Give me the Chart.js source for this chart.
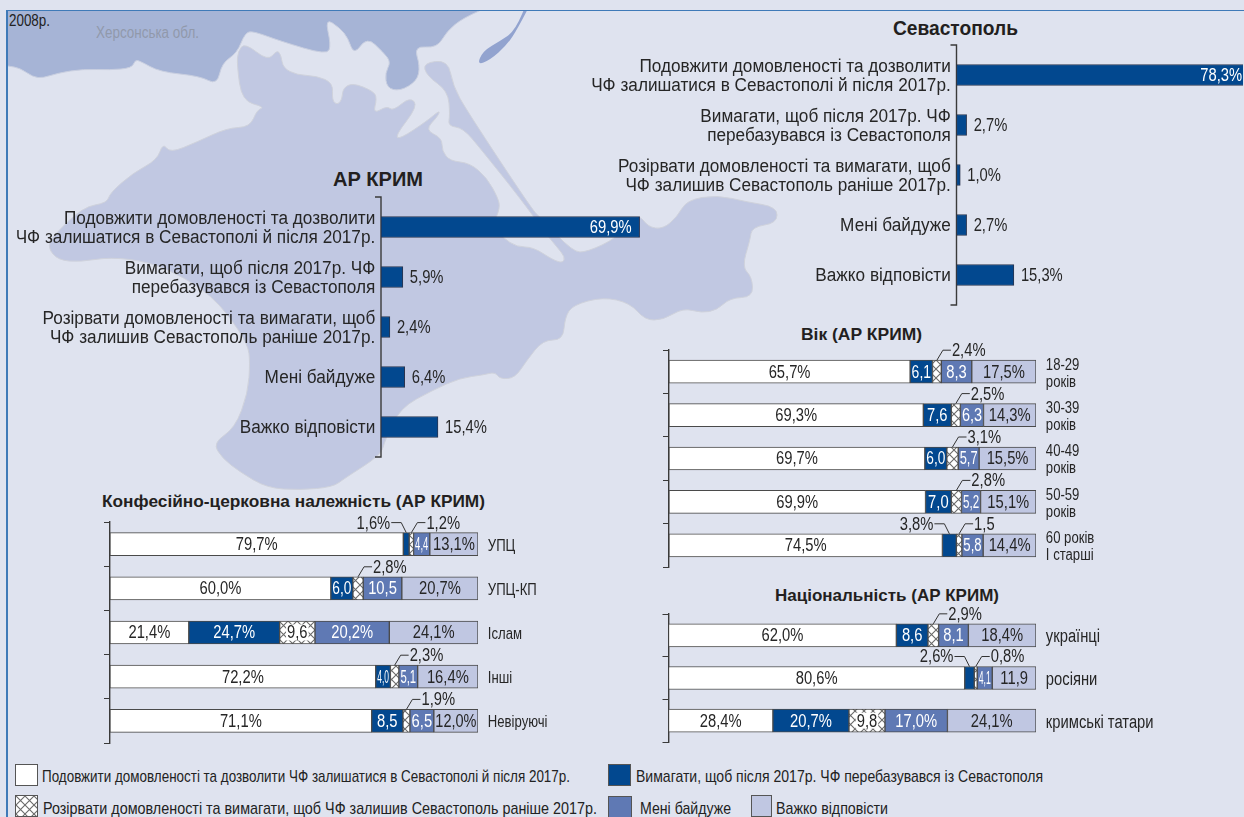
<!DOCTYPE html>
<html lang="uk"><head><meta charset="utf-8">
<title>ЧФ у Севастополі, 2008р.</title>
<script src="https://cdn.jsdelivr.net/npm/chart.js@4/dist/chart.umd.min.js"></script>
<style>
html,body{margin:0;padding:0;background:#dfe3ef;overflow:hidden}
#stage{position:relative;width:1244px;height:817px;overflow:hidden;background:#dfe3ef}
#frame{position:absolute;left:6px;top:10px;width:1300px;height:900px;border-left:2px solid #3f7ab8;border-top:1.5px solid #3f7ab8}
svg#map{position:absolute;left:0;top:0}
canvas.ch{position:absolute;left:0;top:0}
.t{position:absolute;white-space:nowrap;transform-origin:0 50%;font-family:"Liberation Sans",sans-serif;color:#222;line-height:1}
.b{font-weight:bold;color:#231f20}
.sw{position:absolute;box-sizing:border-box;border:1px solid #555}
</style></head>
<body><div id="stage">
<svg id="map" width="1244" height="817"></svg>
<div id="frame"></div>
</div>
<script>
// ---------- data ----------
const answers = ['Подовжити домовленості та дозволити ЧФ залишатися в Севастополі й після 2017р.','Вимагати, щоб після 2017р. ЧФ перебазувався із Севастополя','Розірвати домовленості та вимагати, щоб ЧФ залишив Севастополь раніше 2017р.','Мені байдуже','Важко відповісти'];
const shortCats = [['Подовжити домовленості та дозволити','ЧФ залишатися в Севастополі й після 2017р.'],['Вимагати, щоб після 2017р. ЧФ','перебазувався із Севастополя'],['Розірвати домовленості та вимагати, щоб','ЧФ залишив Севастополь раніше 2017р.'],'Мені байдуже','Важко відповісти'];
const crimeaValues = [69.9,5.9,2.4,6.4,15.4];
const sevastopolValues = [78.3,2.7,1.0,2.7,15.3];

const confCats = ['УПЦ','УПЦ-КП','Іслам','Інші','Невіруючі'];
const confContinue = [79.7,60.0,21.4,72.2,71.1];
const confRelocate = [1.6,6.0,24.7,4.0,8.5];
const confBreak = [1.2,2.8,9.6,2.3,1.9];
const confIndifferent = [4.4,10.5,20.2,5.1,6.5];
const confHard = [13.1,20.7,24.1,16.4,12.0];
const confText = [['79,7%','1,6%','1,2%','4,4','13,1%'],['60,0%','6,0','2,8%','10,5','20,7%'],['21,4%','24,7%','9,6','20,2%','24,1%'],['72,2%','4,0','2,3%','5,1','16,4%'],['71,1%','8,5','1,9%','6,5','12,0%']];

const ageCats = [['18-29','років'],['30-39','років'],['40-49','років'],['50-59','років'],['60 років','І старші']];
const ageContinue = [65.7,69.3,69.7,69.9,74.5];
const ageRelocate = [6.1,7.6,6.0,7.0,3.8];
const ageBreak = [2.4,2.5,3.1,2.8,1.5];
const ageIndifferent = [8.3,6.3,5.7,5.2,5.8];
const ageHard = [17.5,14.3,15.5,15.1,14.4];
const ageText = [['65,7%','6,1','2,4%','8,3','17,5%'],['69,3%','7,6','2,5%','6,3','14,3%'],['69,7%','6,0','3,1%','5,7','15,5%'],['69,9%','7,0','2,8%','5,2','15,1%'],['74,5%','3,8%','1,5','5,8','14,4%']];

const natCats = ['українці','росіяни','кримські татари'];
const natContinue = [62.0,80.6,28.4];
const natRelocate = [8.6,2.6,20.7];
const natBreak = [2.9,0.8,9.8];
const natIndifferent = [8.1,4.1,17.0];
const natHard = [18.4,11.9,24.1];
const natText = [['62,0%','8,6','2,9%','8,1','18,4%'],['80,6%','2,6%','0,8%','4,1','11,9'],['28,4%','20,7%','9,8','17,0%','24,1%']];

// ---------- styling ----------
const W=1244,H=817;
const FAMILY='"Liberation Sans",sans-serif';
const SQUEEZE=0.82;
const INK='#262626', AXIS='#3a3a3a';
const DARK='#02488f', MID='#5f79b4', LIGHT='#c0c7e2';
const stage=document.getElementById('stage');

const tile=document.createElement('canvas');tile.width=tile.height=9;
{const c=tile.getContext('2d');c.fillStyle='#fff';c.fillRect(0,0,9,9);c.strokeStyle='#6a6a6a';c.lineWidth=1.1;
 c.beginPath();c.moveTo(0,0);c.lineTo(9,9);c.moveTo(9,0);c.lineTo(0,9);c.stroke();}
const HATCH=document.createElement('canvas').getContext('2d').createPattern(tile,'repeat');
const colours=[ '#ffffff',DARK,HATCH,MID,LIGHT ];
const textCols=[INK,'#fff',INK,'#fff',INK];

// ---------- map backdrop ----------
function smooth(p){let d=`M${(p[0][0]+p[p.length-1][0])/2} ${(p[0][1]+p[p.length-1][1])/2}`;
 for(let i=0;i<p.length;i++){const a=p[i],b=p[(i+1)%p.length];d+=`Q${a[0]} ${a[1]} ${(a[0]+b[0])/2} ${(a[1]+b[1])/2}`;}return d+'Z';}
const kherson=[[-30,-30],[-30,60],[8,66],[20,68],[33,77],[43,78],[58,73],[83,69],[110,70],[132,68],[135,60],[140,61],[160,72],[200,76],[217,85],[222,63],[237,53],[245,33],[253,31],[280,41],[327,55],[331,45],[325,18],[340,28],[348,38],[354,55],[367,37],[383,52],[391,62],[385,73],[387,88],[400,91],[417,81],[420,66],[414,46],[437,48],[447,31],[463,18],[495,4],[510,-30]];
const lagoon=[[530,-5],[515,31],[500,41],[483,51],[477,65],[490,60],[507,45],[518,28],[535,-5]];
const crimea=[[245,43],[268,61],[277,50],[281,55],[283,68],[297,75],[317,76],[333,83],[332,100],[337,105],[342,100],[343,88],[353,83],[373,91],[377,98],[373,114],[387,106],[393,111],[410,97],[418,106],[395,136],[400,139],[427,121],[440,110],[438,116],[425,130],[442,138],[442,151],[450,161],[470,163],[487,178],[498,198],[500,208],[493,225],[503,238],[517,247],[533,247],[553,260],[563,263],[565,257],[557,247],[547,235],[520,198],[480,148],[463,128],[448,126],[450,115],[448,91],[427,76],[423,63],[448,60],[453,86],[467,111],[533,211],[540,217],[573,252],[587,252],[617,238],[638,213],[648,227],[663,229],[677,217],[687,200],[717,195],[747,202],[777,207],[777,223],[752,227],[750,240],[742,267],[752,277],[753,297],[730,298],[717,310],[702,313],[683,308],[663,320],[645,320],[630,303],[603,297],[573,305],[565,317],[563,340],[543,340],[527,360],[515,378],[500,379],[495,372],[483,375],[460,378],[433,390],[400,408],[385,440],[381,455],[345,478],[333,487],[300,490],[267,488],[240,472],[222,458],[213,443],[235,428],[248,393],[250,362],[248,345],[230,317],[210,295],[185,278],[150,262],[110,257],[80,262],[58,260],[48,248],[52,237],[83,207],[107,203],[110,193],[133,173],[157,160],[163,143],[170,153],[197,142],[227,128],[250,127],[257,110],[265,107],[242,101],[237,65],[238,51]];
document.getElementById('map').innerHTML=
 `<defs><clipPath id="fr"><rect x="7" y="10" width="1240" height="810"/></clipPath></defs><g clip-path="url(#fr)">`+
 `<path d="${smooth(kherson)}" fill="#a6b4d6" stroke="#c9cfe0"/>`+
 `<path d="${smooth(lagoon)}" fill="#92a3cf"/>`+
 `<path d="${smooth(crimea)}" fill="#c1c8e2" stroke="#cfd2dc"/></g>`;

// ---------- DOM text helpers ----------
function text(s,x,cy,size,width,cls,col){const e=document.createElement('div');e.className='t '+(cls||'');e.textContent=s;
 e.style.left=x+'px';e.style.top=(cy-size/2)+'px';e.style.fontSize=size+'px';if(col)e.style.color=col;stage.appendChild(e);
 if(width){const w=e.getBoundingClientRect().width;e.style.transform=`scaleX(${width/w})`;}return e;}
text('2008р.',9,21,16,41);
text('Херсонська обл.',96,33,16,103,'','#9199ab');
text('Севастополь',893,28,20,125,'b');
text('АР КРИМ',333,179,20,90,'b');
text('Вік (АР КРИМ)',801,334,17,121,'b');
text('Конфесійно-церковна належність (АР КРИМ)',102,501,17,383,'b');
text('Національність (АР КРИМ)',775,595,17,224,'b');

// legend
function swatch(x,y,w,h,bg,img){const e=document.createElement('div');e.className='sw';e.style.cssText+=`left:${x}px;top:${y}px;width:${w}px;height:${h}px;background:${bg};`;
 if(img)e.style.backgroundImage=`url(${img})`;stage.appendChild(e);}
swatch(15,764,23,22,'#fff');text(answers[0],42,776,17,528);
swatch(608,764,23,22,DARK);text(answers[1],636,776,17,407);
swatch(15,795,23,22,'#fff',tile.toDataURL());text(answers[2],43,808,17,554);
swatch(608,796,24,22,MID);text(answers[3],640,808,17,91);
swatch(751,795,21,22,LIGHT);text(answers[4],776,808,17,112);

// ---------- canvases ----------
function mkCanvas(){const c=document.createElement('canvas');c.className='ch';c.width=W;c.height=H;c.style.width=W+'px';c.style.height=H+'px';stage.appendChild(c);return c;}
// condensed type: the tick labels drawn by the library are squeezed horizontally about the axis line
const squeezeLabels=(k,dy)=>s=>{ if(s.__sq) return; s.__sq=true; const orig=s.drawLabels;
 s.drawLabels=function(){const c=this.ctx,ax=this.position==='left'?this.right:this.left;c.save();c.translate(ax,dy);c.scale(k,1);c.translate(-ax,0);orig.apply(this,arguments);c.restore();};};
function put(c,s,x,y,align,k){c.save();c.translate(x,y+1);c.scale(k,1);c.textAlign=align;c.fillText(s,0,0);c.restore();}

function singlePanel(rect,cats,values){
 const bracket={id:'bracket',beforeDatasetsDraw(ch){const a=ch.chartArea,c=ch.ctx,e=5;c.save();c.strokeStyle=AXIS;c.lineWidth=1.4;
   c.beginPath();c.moveTo(a.left-6,a.top-e);c.lineTo(a.left,a.top-e);c.lineTo(a.left,a.bottom+e);c.lineTo(a.left-6,a.bottom+e);c.stroke();c.restore();}};
 const vals={id:'vals',afterDatasetsDraw(ch){const c=ch.ctx;c.save();c.textBaseline='middle';c.font='18px '+FAMILY;
   ch.getDatasetMeta(0).data.forEach((b,i)=>{const s=values[i].toFixed(1).replace('.',',')+'%';
     if(values[i]>50){c.fillStyle='#fff';put(c,s,b.x-8,b.y,'right',SQUEEZE);}
     else{c.fillStyle=INK;put(c,s,b.x+7,b.y,'left',SQUEEZE);}});c.restore();}};
 return new Chart(mkCanvas(),{type:'bar',data:{labels:cats,datasets:[{data:values,backgroundColor:DARK,borderColor:'#2a3550',borderWidth:1,borderSkipped:false,barThickness:21}]},
  plugins:[bracket,vals],options:{indexAxis:'y',responsive:false,animation:false,layout:{padding:{left:0,top:rect.t,right:W-rect.r,bottom:H-rect.b}},
   plugins:{legend:{display:false},tooltip:{enabled:false}},
   scales:{x:{display:false,min:0,max:rect.max},
    y:{afterBuildTicks:squeezeLabels(0.955,1.5),afterFit:s=>{s.width=rect.l;},grid:{display:false,drawTicks:false},border:{display:false},ticks:{color:INK,padding:6,crossAlign:'near',autoSkip:false,font:{family:FAMILY,size:18,lineHeight:1.06}}}}}});
}
singlePanel({l:381,t:202,r:640,b:452,max:70},shortCats,crimeaValues);
singlePanel({l:956.5,t:50,r:1243,b:300,max:76.4},shortCats,sevastopolValues);

function stackPanel(rect,cats,series,texts,labelSize,barH){
 const lab={id:'lab',afterDatasetsDraw(ch){const c=ch.ctx;c.save();c.textBaseline='middle';
   series.forEach((vals,d)=>{ch.getDatasetMeta(d).data.forEach((b,i)=>{
     const l=Math.min(b.x,b.base),r=Math.max(b.x,b.base),w=r-l,mx=(l+r)/2,top=b.y-b.height/2,s=texts[i][d];
     c.font='18px '+FAMILY;
     if((d===1||d===2)&&vals[i]<3.9){
       const y=top-10;c.strokeStyle='#333';c.lineWidth=1;c.beginPath();c.fillStyle=INK;
       if(d===1){c.moveTo(mx,top);c.lineTo(mx-5,y);c.lineTo(mx-15,y);c.stroke();put(c,s,mx-16,y,'right',SQUEEZE);}
       else{c.moveTo(mx,top);c.lineTo(mx+6,y);c.lineTo(mx+14,y);c.stroke();put(c,s,mx+15,y,'left',SQUEEZE);}
       return;}
     const tw=c.measureText(s).width,k=Math.min(SQUEEZE,(w-3)/tw);
     if(d===2){c.fillStyle='#fff';c.fillRect(mx-tw*k/2-1,b.y-8,tw*k+2,16);}
     c.fillStyle=textCols[d];put(c,s,mx,b.y,'center',k);
   });});c.restore();}};
 return new Chart(mkCanvas(),{type:'bar',data:{labels:cats,datasets:series.map((v,d)=>({data:v,backgroundColor:colours[d],borderColor:'#4a4a4a',borderWidth:1,borderSkipped:false,barThickness:barH}))},
  plugins:[lab],options:{indexAxis:'y',responsive:false,animation:false,layout:{padding:{left:rect.l,top:rect.t,right:0,bottom:H-rect.b}},
   plugins:{legend:{display:false},tooltip:{enabled:false}},
   scales:{x:{display:false,stacked:true,min:0,max:100},
    y:{stacked:true,afterFit:s=>{s.width=0;},offset:true,grid:{offset:true,drawOnChartArea:false,drawTicks:true,tickLength:6,color:AXIS},border:{display:true,color:AXIS,width:1.4},ticks:{display:false}},
    y2:{type:'category',position:'right',labels:cats,offset:true,afterBuildTicks:squeezeLabels(SQUEEZE,2),afterFit:s=>{s.width=W-rect.r;},grid:{display:false,drawTicks:false},border:{display:false},
       ticks:{color:INK,padding:12,crossAlign:'near',autoSkip:false,font:{family:FAMILY,size:labelSize,lineHeight:1.07}}}}}});
}
stackPanel({l:110,t:522,r:478,b:743},confCats,[confContinue,confRelocate,confBreak,confIndifferent,confHard],confText,16,23);
stackPanel({l:669,t:350,r:1036,b:567},ageCats,[ageContinue,ageRelocate,ageBreak,ageIndifferent,ageHard],ageText,16,23);
stackPanel({l:668.5,t:614,r:1036,b:742},natCats,[natContinue,natRelocate,natBreak,natIndifferent,natHard],natText,18,23);
</script>
</body></html>
